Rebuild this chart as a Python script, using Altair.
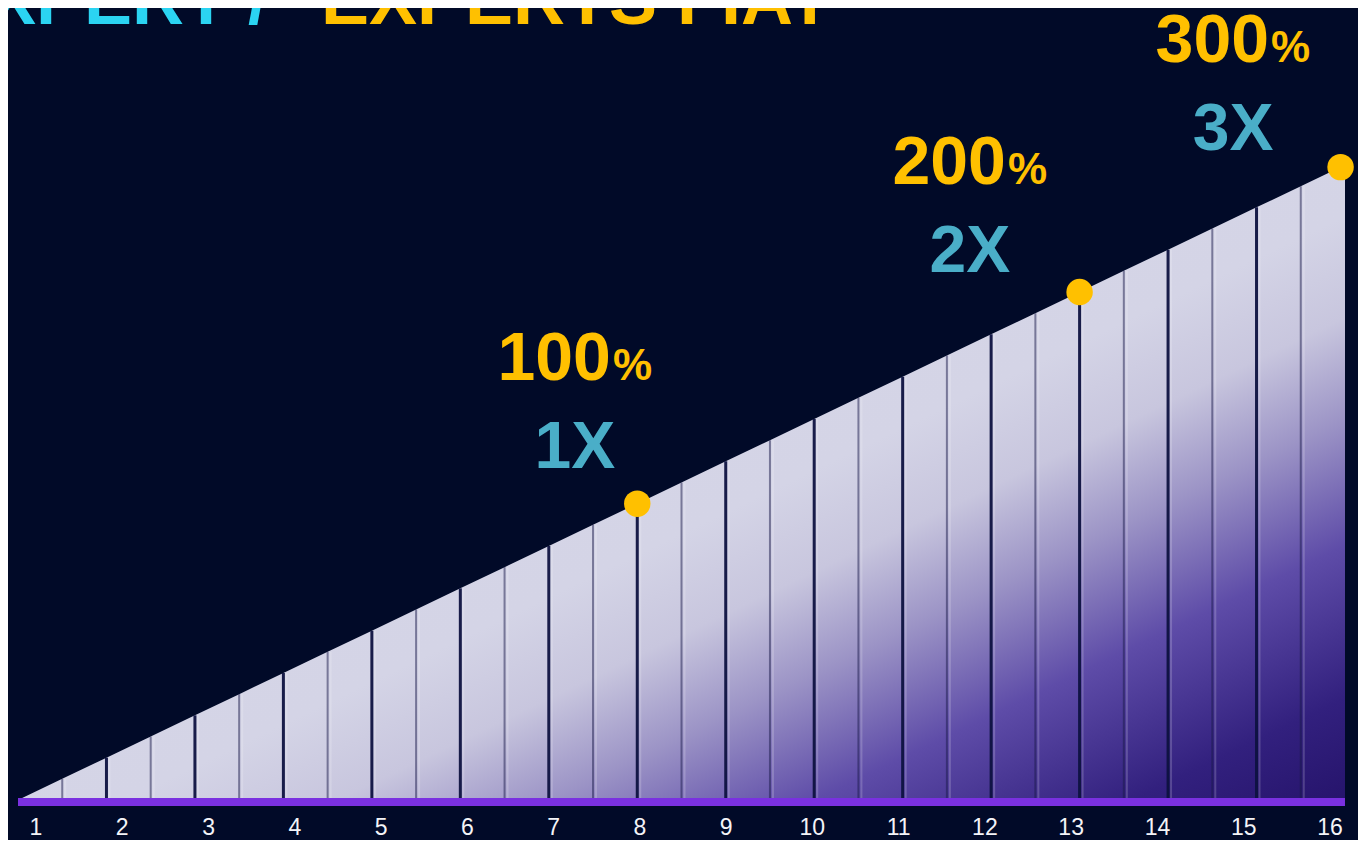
import altair as alt
import pandas as pd

# ---- data -----------------------------------------------------------
title_left = "EXPERT /"
title_right = "EXPERTS FIAT"

# 30 columns of the rising ramp: edge index and ramp height at that edge
edges = [0, 1, 2, 3, 4, 5, 6, 7, 8, 9, 10, 11, 12, 13, 14, 15,
         16, 17, 18, 19, 20, 21, 22, 23, 24, 25, 26, 27, 28, 29, 30]
heights = [0, 1, 2, 3, 4, 5, 6, 7, 8, 9, 10, 11, 12, 13, 14, 15,
           16, 17, 18, 19, 20, 21, 22, 23, 24, 25, 26, 27, 28, 29, 30]

# milestones on the ramp
mile_edge = [14, 24, 29.9]
mile_height = [14, 24, 29.9]
mile_pct = ["100", "200", "300"]
mile_mult = ["1X", "2X", "3X"]
# anchor of each milestone label (centre / baseline of the "nX" text)
label_x = [12.59, 21.52, 27.47]
label_y = [15.68, 24.94, 30.71]

# bottom tick labels
ticks = [1, 2, 3, 4, 5, 6, 7, 8, 9, 10, 11, 12, 13, 14, 15, 16]

# ---- tables -----------------------------------------------------------
ramp = pd.DataFrame({"edge": edges, "height": heights})
ramp["zero"] = 0
miles = pd.DataFrame({"edge": mile_edge, "height": mile_height,
                      "pct": mile_pct, "mult": mile_mult,
                      "lx": label_x, "ly": label_y})
tick_df = pd.DataFrame({"tick": ticks, "label": [str(t) for t in ticks]})
base_df = pd.DataFrame({"x0": [min(edges)], "x1": [max(edges)], "zero": [0]})

BG = "#010a28"
FONT = "Liberation Sans"
W, H = 1350, 832

xs = alt.Scale(domain=[-0.226, 30.294], nice=False, zero=False)
ys = alt.Scale(domain=[-1.890, 37.417], nice=False, zero=False)
xt = alt.Scale(domain=[0.6754, 16.325], nice=False, zero=False)

grad = alt.Gradient(
    gradient="linear", x1=0, y1=0, x2=1, y2=1,
    stops=[
        alt.GradientStop(color="#d8d8e8", offset=0),
        alt.GradientStop(color="#d4d4e6", offset=0.54),
        alt.GradientStop(color="#c8c6de", offset=0.62),
        alt.GradientStop(color="#9c94c6", offset=0.70),
        alt.GradientStop(color="#5e4ca8", offset=0.80),
        alt.GradientStop(color="#32207e", offset=0.92),
        alt.GradientStop(color="#26146c", offset=1),
    ],
)

base = alt.Chart(ramp)

X = alt.X("edge:Q", scale=xs, axis=None)
Y = alt.Y("height:Q", scale=ys, axis=None)

area = base.mark_area(color=grad, opacity=1).encode(x=X, y=Y, y2="zero:Q")

highlight = base.transform_filter("datum.edge > 0 && datum.edge < 30").mark_rule(
    color="#ffffff", strokeWidth=2, opacity=0.18, xOffset=3
).encode(x=X, y=Y, y2="zero:Q")

light_div = base.transform_filter(
    "datum.edge > 0 && datum.edge < 30 && datum.edge % 2 == 1"
).mark_rule(color="#1a1a4a", strokeWidth=2, opacity=0.5).encode(
    x=X, y=Y, y2="zero:Q")

dark_div = base.transform_filter(
    "datum.edge > 0 && datum.edge < 30 && datum.edge % 2 == 0"
).mark_rule(color="#0e1240", strokeWidth=3, opacity=0.95).encode(
    x=X, y=Y, y2="zero:Q")

baseline = alt.Chart(base_df).mark_rule(
    color="#7a30e0", strokeWidth=8, yOffset=2
).encode(
    x=alt.X("x0:Q", scale=xs, axis=None),
    x2="x1:Q",
    y=alt.Y("zero:Q", scale=ys, axis=None),
)

dots = alt.Chart(miles).mark_circle(size=700, color="#ffc000", opacity=1).encode(
    x=X, y=Y)

LX = alt.X("lx:Q", scale=xs, axis=None)
LY = alt.Y("ly:Q", scale=ys, axis=None)

pct_text = alt.Chart(miles).mark_text(
    font=FONT, fontWeight="bold", fontSize=68, color="#ffc000",
    align="right", baseline="alphabetic", dx=36, dy=-88,
).encode(x=LX, y=LY, text="pct:N")

pct_sign = alt.Chart(miles).mark_text(
    font=FONT, fontWeight="bold", fontSize=44, color="#ffc000",
    align="left", baseline="alphabetic", dx=38, dy=-88, text="%",
).encode(x=LX, y=LY)

mult_text = alt.Chart(miles).mark_text(
    font=FONT, fontWeight="bold", fontSize=66, color="#4aaec8",
    align="center", baseline="alphabetic",
).encode(x=LX, y=LY, text="mult:N")

title_a = alt.Chart(pd.DataFrame({"t": [title_left]})).mark_text(
    font=FONT, fontWeight="bold", fontSize=72, color="#2bd4f2",
    align="right", baseline="alphabetic",
).encode(x=alt.value(260), y=alt.value(16), text="t:N")

title_b = alt.Chart(pd.DataFrame({"t": [title_right]})).mark_text(
    font=FONT, fontWeight="bold", fontSize=72, color="#ffc000",
    align="left", baseline="alphabetic",
).encode(x=alt.value(313), y=alt.value(16), text="t:N")

main = alt.layer(
    area, highlight, light_div, dark_div, baseline, dots,
    pct_text, pct_sign, mult_text, title_a, title_b,
)

tick_text = alt.Chart(tick_df).mark_text(
    font=FONT, fontSize=23, color="#f4f4f8", align="center", baseline="middle",
).encode(
    x=alt.X("tick:Q", scale=xt, axis=None),
    y=alt.value(820),
    text="label:N",
)

chart = alt.layer(main, tick_text).resolve_scale(x="independent").properties(
    width=W, height=H,
    autosize=alt.AutoSizeParams(type="none"),
    padding=0,
    background=BG,
).configure_view(strokeWidth=0)

chart.save("out.html", embed_options={"renderer": "svg", "actions": False})
